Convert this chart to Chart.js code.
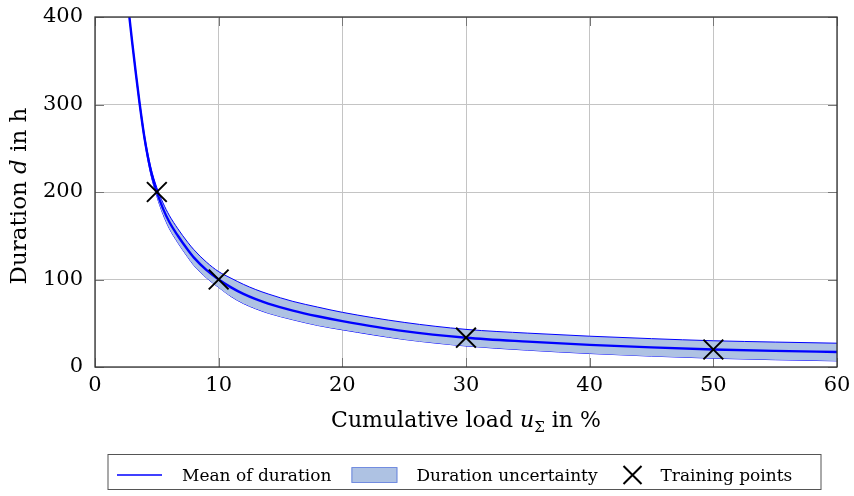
<!DOCTYPE html>
<html>
<head>
<meta charset="utf-8">
<script src="https://cdn.jsdelivr.net/npm/chart.js@4.4.0/dist/chart.umd.min.js"></script>
<style>
    html, body { margin: 0; padding: 0; background: #fff; }
    #wrap { width: 854px; height: 496px; }
</style>
</head>
<body>
<div id="wrap"><canvas id="chart" width="854" height="496"></canvas></div>
<script>
// Values
const loadX         = [2.78, 3, 3.3, 3.6, 4, 4.5, 5, 5.5, 6, 6.7, 7.5, 8, 9, 10, 11, 12, 13, 14, 16, 18, 20, 25, 30, 35, 40, 45, 50, 55, 60];
const meanDuration  = [400, 372, 336, 302, 262, 225, 200, 181, 166, 150, 134, 125, 111, 100, 91, 83.5, 77.5, 72.5, 64.5, 58, 52.5, 41, 33.5, 29, 25.3, 22.4, 20, 18.4, 17.2];
const upperDuration = [400.5, 373, 337.5, 304, 265, 229, 205, 187.5, 173.5, 158, 142.5, 134, 120, 109, 101.5, 94.5, 88.5, 83.5, 75, 68.5, 62.5, 51, 43, 38.7, 35.2, 32.4, 30, 28.5, 27.2];
const lowerDuration = [399.5, 371, 334.5, 300, 259, 221, 195, 174.5, 158.5, 142, 125.5, 116, 102, 91, 80.5, 72.5, 66.5, 61.5, 54, 47.5, 42.5, 31.5, 24, 19.2, 15.4, 12.4, 10, 8.3, 7];
const trainLoad     = [5, 10, 30, 50];
const trainDuration = [200, 100, 33.5, 20];
const xTicks = [0, 10, 20, 30, 40, 50, 60];
const yTicks = [0, 100, 200, 300, 400];

const legendItems = [
    { kind: 'line', text: 'Mean of duration' },
    { kind: 'rect', text: 'Duration uncertainty' },
    { kind: 'cross', text: 'Training points' }
];

const SERIF = '"DejaVu Serif", serif';
const BLUE = '#0000ff';
const BAND = 'rgba(174, 194, 227, 1)';

function toPoints(xs, ys) {
    return xs.map((x, i) => ({ x: x, y: ys[i] }));
}

// frame + inward ticks like pgfplots
const framePlugin = {
    id: 'frame',
    beforeDatasetsDraw(chart) {
        const { ctx, chartArea: a, scales } = chart;
        ctx.save();
        ctx.strokeStyle = '#777';
        ctx.lineWidth = 1;
        ctx.beginPath();
        xTicks.forEach(v => {
            const px = Math.round(scales.x.getPixelForValue(v)) + 0.5;
            ctx.moveTo(px, a.bottom); ctx.lineTo(px, a.bottom - 9);
            ctx.moveTo(px, a.top); ctx.lineTo(px, a.top + 9);
        });
        yTicks.forEach(v => {
            const py = Math.round(scales.y.getPixelForValue(v)) + 0.5;
            ctx.moveTo(a.left, py); ctx.lineTo(a.left + 9, py);
            ctx.moveTo(a.right, py); ctx.lineTo(a.right - 9, py);
        });
        ctx.stroke();
        ctx.restore();
    },
    afterDraw(chart) {
        const { ctx, chartArea: a } = chart;
        ctx.save();
        ctx.strokeStyle = '#333';
        ctx.lineWidth = 1.3;
        ctx.strokeRect(a.left, a.top, a.right - a.left, a.bottom - a.top);
        ctx.restore();
    }
};

function drawParts(ctx, parts, cx, baseline) {
    let total = 0;
    parts.forEach(p => { ctx.font = p.font; p.w = ctx.measureText(p.text).width; total += p.w; });
    let x = cx - total / 2;
    parts.forEach(p => {
        ctx.font = p.font;
        ctx.fillText(p.text, x, baseline + (p.dy || 0));
        x += p.w;
    });
}

// axis titles with italic symbols and subscript
const titlePlugin = {
    id: 'axisTitles',
    afterDraw(chart) {
        const { ctx, chartArea: a } = chart;
        ctx.save();
        ctx.fillStyle = '#000';
        ctx.textBaseline = 'alphabetic';
        ctx.textAlign = 'left';
        const cx = (a.left + a.right) / 2;
        drawParts(ctx, [
            { text: 'Cumulative load ', font: '22px ' + SERIF },
            { text: 'u', font: 'italic 22px ' + SERIF },
            { text: 'Σ', font: '15px ' + SERIF, dy: 5 },
            { text: ' in %', font: '22px ' + SERIF }
        ], cx, 427);

        ctx.translate(26, 196);
        ctx.rotate(-Math.PI / 2);
        drawParts(ctx, [
            { text: 'Duration ', font: '23px ' + SERIF },
            { text: 'd', font: 'italic 23px ' + SERIF },
            { text: ' in h', font: '23px ' + SERIF }
        ], 0, 0);
        ctx.restore();
    }
};

// boxed legend below the axis
const legendPlugin = {
    id: 'boxLegend',
    afterDraw(chart) {
        const ctx = chart.ctx;
        const boxLeft = 108, boxTop = 454.5, boxRight = 821, boxBottom = 489.5;
        const midY = 475, baseline = 481;
        ctx.save();
        ctx.font = '17px ' + SERIF;
        ctx.textBaseline = 'alphabetic';
        ctx.fillStyle = '#000';
        ctx.strokeStyle = '#555';
        ctx.lineWidth = 1;
        ctx.strokeRect(boxLeft, boxTop, boxRight - boxLeft, boxBottom - boxTop);

        let x = boxLeft + 9;
        legendItems.forEach(item => {
            if (item.kind === 'line') {
                ctx.strokeStyle = BLUE;
                ctx.lineWidth = 1.6;
                ctx.beginPath(); ctx.moveTo(x, midY); ctx.lineTo(x + 45, midY); ctx.stroke();
                x += 45 + 20;
            } else if (item.kind === 'rect') {
                ctx.fillStyle = BAND;
                ctx.fillRect(x, 467.5, 46, 15);
                ctx.strokeStyle = 'rgba(90, 120, 220, 0.8)';
                ctx.lineWidth = 1;
                ctx.strokeRect(x + 0.5, 467.5, 45, 15);
                x += 46 + 19;
            } else {
                const c = x + 15;
                ctx.strokeStyle = '#000';
                ctx.lineWidth = 2;
                ctx.beginPath();
                ctx.moveTo(c - 9, midY - 9); ctx.lineTo(c + 9, midY + 9);
                ctx.moveTo(c - 9, midY + 9); ctx.lineTo(c + 9, midY - 9);
                ctx.stroke();
                x += 30 + 13;
            }
            ctx.fillStyle = '#000';
            ctx.fillText(item.text, x, baseline);
            x += ctx.measureText(item.text).width + 20;
        });
        ctx.restore();
    }
};

function noPad(s) {
    s.paddingTop = 0; s.paddingBottom = 0; s.paddingLeft = 0; s.paddingRight = 0;
}

const ctx = document.getElementById('chart').getContext('2d');
const chart = new Chart(ctx, {
    type: 'line',
    data: {
        datasets: [
            {
                type: 'scatter',
                label: 'Training points',
                data: toPoints(trainLoad, trainDuration),
                pointStyle: 'crossRot',
                pointRadius: 14,
                pointBorderWidth: 2,
                borderColor: '#000',
                backgroundColor: '#000',
                showLine: false
            },
            {
                label: 'Mean of duration',
                data: toPoints(loadX, meanDuration),
                borderColor: BLUE,
                borderWidth: 2.4,
                pointRadius: 0,
                cubicInterpolationMode: 'monotone',
                fill: false
            },
            {
                label: 'Duration uncertainty',
                data: toPoints(loadX, upperDuration),
                borderColor: BLUE,
                borderWidth: 1,
                pointRadius: 0,
                cubicInterpolationMode: 'monotone',
                backgroundColor: BAND,
                fill: '+1'
            },
            {
                label: 'lower',
                data: toPoints(loadX, lowerDuration),
                borderColor: BLUE,
                borderWidth: 1,
                pointRadius: 0,
                cubicInterpolationMode: 'monotone',
                fill: false
            }
        ]
    },
    options: {
        responsive: false,
        animation: false,
        events: [],
        layout: { padding: { left: 0, right: 17, top: 17, bottom: 0 } },
        plugins: {
            legend: { display: false },
            tooltip: { enabled: false }
        },
        scales: {
            x: {
                type: 'linear',
                min: 0,
                max: 60,
                afterBuildTicks: s => { s.ticks = xTicks.map(v => ({ value: v })); },
                afterFit: s => { s.height = 129; noPad(s); },
                ticks: { font: { family: SERIF, size: 21 }, color: '#000', padding: 6, maxRotation: 0 },
                grid: { color: '#c4c4c4', lineWidth: 1, drawTicks: false },
                border: { display: false }
            },
            y: {
                type: 'linear',
                min: 0,
                max: 400,
                afterBuildTicks: s => { s.ticks = yTicks.map(v => ({ value: v })); },
                afterFit: s => { s.width = 95; noPad(s); },
                ticks: { font: { family: SERIF, size: 21 }, color: '#000', padding: 12 },
                grid: { color: '#c4c4c4', lineWidth: 1, drawTicks: false },
                border: { display: false }
            }
        }
    },
    plugins: [framePlugin, titlePlugin, legendPlugin]
});
</script>
</body>
</html>
